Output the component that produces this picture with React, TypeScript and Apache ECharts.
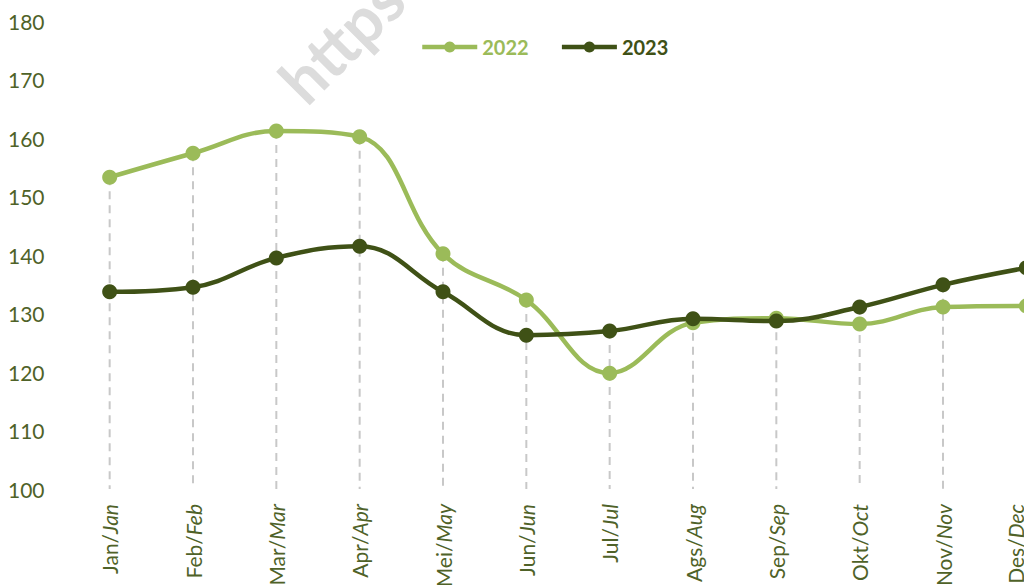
import React, { useEffect, useRef } from "react";
import * as echarts from "echarts";

const monthsId = ["Jan", "Feb", "Mar", "Apr", "Mei", "Jun", "Jul", "Ags", "Sep", "Okt", "Nov", "Des"];
const monthsEn = ["Jan", "Feb", "Mar", "Apr", "May", "Jun", "Jul", "Aug", "Sep", "Oct", "Nov", "Dec"];
const series2022 = [153.3, 157.4, 161.2, 160.2, 140.2, 132.3, 119.8, 128.4, 129.2, 128.2, 131.1, 131.3];
const series2023 = [133.7, 134.5, 139.5, 141.5, 133.7, 126.3, 127.0, 129.1, 128.7, 131.1, 134.9, 137.8];
const yTicks = { min: 100, max: 180, interval: 10 };

const C22 = "#9bbb59";
const C23 = "#3f5116";
const TXT = "#4f6228";
const FONT = "Lato, 'Open Sans', sans-serif";

export default function App() {
  const ref = useRef<HTMLDivElement>(null);
  useEffect(() => {
    if (!ref.current) return;
    const chart = echarts.init(ref.current, null, { renderer: "svg" });
    const categories = monthsId.map((m, i) => {
      const value = m + "/" + monthsEn[i];
      if (i === monthsId.length - 1) {
        return { value, textStyle: { verticalAlign: "bottom" } };
      }
      return value;
    });
    const drop = series2022.map((v, i) => [i, Math.max(v, series2023[i])]);
    chart.setOption({
      animation: false,
      backgroundColor: "#ffffff",
      textStyle: { fontFamily: FONT },
      grid: { left: 68, right: 0, top: 21, bottom: 96, containLabel: false, outerBoundsMode: "none" },
      legend: {
        top: 32,
        left: 415,
        itemWidth: 55,
        itemHeight: 14,
        itemGap: 31,
        lineStyle: { width: 4.5 },
        textStyle: { fontSize: 20, fontWeight: "bold", fontFamily: FONT },
        data: [
          { name: "2022", textStyle: { color: C22 } },
          { name: "2023", textStyle: { color: C23 } },
        ],
      },
      xAxis: {
        type: "category",
        data: categories,
        boundaryGap: true,
        axisLine: { show: false },
        axisTick: { show: false },
        splitLine: { show: false },
        axisLabel: {
          rotate: 90,
          margin: 15,
          interval: 0,
          formatter: (v: string) => {
            const [a, b] = v.split("/");
            return "{a|" + a + "/}{b|" + b + "}";
          },
          rich: {
            a: { fontSize: 21, color: TXT, fontFamily: FONT },
            b: { fontSize: 21, color: TXT, fontFamily: FONT, fontStyle: "italic" },
          },
        },
      },
      yAxis: {
        type: "value",
        min: yTicks.min,
        max: yTicks.max,
        interval: yTicks.interval,
        axisLine: { show: false },
        axisTick: { show: false },
        splitLine: { show: false },
        axisLabel: { color: TXT, fontSize: 21, fontFamily: FONT, align: "left", margin: 60 },
      },
      graphic: [
        {
          type: "text",
          x: 267,
          y: 68,
          rotation: Math.PI / 4,
          silent: true,
          z: -1,
          style: {
            text: "https",
            fill: "#dcdcdc",
            font: "bold 64px " + FONT,
          },
        },
      ],
      series: [
        {
          type: "custom",
          name: "drop",
          z: 1,
          silent: true,
          data: drop,
          renderItem: (params: any, api: any) => {
            const top = api.coord([api.value(0), api.value(1)]);
            const bot = api.coord([api.value(0), yTicks.min]);
            return {
              type: "line",
              shape: { x1: top[0], y1: top[1], x2: bot[0], y2: bot[1] },
              style: { stroke: "#c8c8c8", lineWidth: 2, lineDash: [8, 6] },
            };
          },
        },
        {
          type: "line",
          name: "2022",
          data: series2022,
          smooth: 0.4,
          z: 2,
          symbol: "circle",
          symbolSize: 15,
          itemStyle: { color: C22 },
          lineStyle: { color: C22, width: 4.5 },
        },
        {
          type: "line",
          name: "2023",
          data: series2023,
          smooth: 0.4,
          z: 3,
          symbol: "circle",
          symbolSize: 15,
          itemStyle: { color: C23 },
          lineStyle: { color: C23, width: 4.5 },
        },
      ],
    });
    return () => chart.dispose();
  }, []);
  return (
    <div style={{ position: "fixed", left: 0, top: 0, width: 1024, height: 585, overflow: "hidden" }}>
      <div ref={ref} style={{ width: 1068, height: 585 }} />
    </div>
  );
}
